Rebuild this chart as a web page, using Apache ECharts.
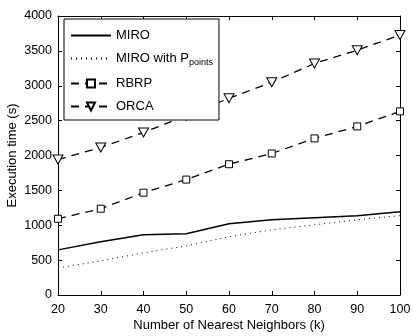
<!DOCTYPE html>
<html>
<head>
<meta charset="utf-8">
<script src="https://cdn.jsdelivr.net/npm/echarts@6/dist/echarts.min.js"></script>
<style>
  html, body { margin: 0; padding: 0; background: #fff; }
  #chart { width: 413px; height: 336px; }
</style>
</head>
<body>
<div id="chart"></div>
<script>
// Number of nearest neighbours (k)
const kValues = [20, 30, 40, 50, 60, 70, 80, 90, 100];
// Execution time in seconds per method
const miro = [647, 762, 863, 878, 1022, 1079, 1108, 1137, 1194];
const miroPoints = [388, 489, 604, 705, 834, 935, 1007, 1079, 1137];
const rbrp = [1093, 1237, 1467, 1655, 1875, 2029, 2245, 2417, 2633];
const orca = [1942, 2115, 2330, 2570, 2820, 3050, 3320, 3510, 3727];
const yTicks = [0, 500, 1000, 1500, 2000, 2500, 3000, 3500, 4000];

const FONT = 'Liberation Sans, Arial, sans-serif';
const toPairs = arr => arr.map((v, i) => [kValues[i], v]);

const chart = echarts.init(document.getElementById('chart'), null, { renderer: 'canvas' });

const axisCommon = {
  axisLine: { show: true, onZero: false, lineStyle: { color: '#000', width: 1 } },
  axisTick: { show: true, inside: true, length: 4, lineStyle: { color: '#000' } },
  splitLine: { show: false }
};

chart.setOption({
  animation: false,
  grid: { left: 58, right: 13, top: 16, bottom: 41, containLabel: false, outerBoundsMode: 'none' },
  xAxis: [
    Object.assign({
      type: 'value', min: 20, max: 100, interval: 10, position: 'bottom',
      name: 'Number of Nearest Neighbors (k)', nameLocation: 'middle', nameGap: 24,
      nameMoveOverlap: false,
      nameTextStyle: { fontFamily: FONT, fontSize: 13, color: '#000' },
      axisLabel: { fontFamily: FONT, fontSize: 12.5, color: '#000', margin: 8 }
    }, axisCommon),
    Object.assign({
      type: 'value', min: 20, max: 100, interval: 10, position: 'top',
      axisLabel: { show: false }
    }, axisCommon)
  ],
  yAxis: [
    Object.assign({
      type: 'value', min: 0, max: 4000, interval: 500, position: 'left',
      name: 'Execution time (s)', nameLocation: 'middle', nameGap: 39,
      nameMoveOverlap: false,
      nameTextStyle: { fontFamily: FONT, fontSize: 13, color: '#000' },
      axisLabel: { fontFamily: FONT, fontSize: 12.5, color: '#000', margin: 6,
        formatter: v => yTicks.includes(v) ? String(v) : '' }
    }, axisCommon),
    Object.assign({
      type: 'value', min: 0, max: 4000, interval: 500, position: 'right',
      axisLabel: { show: false }
    }, axisCommon)
  ],
  legend: {
    left: 64, top: 19, orient: 'vertical',
    width: 154,
    itemWidth: 40, itemHeight: 10, itemGap: 10,
    padding: [10, 6, 7, 6],
    borderColor: '#000', borderWidth: 1, backgroundColor: '#fff',
    textStyle: {
      fontFamily: FONT, fontSize: 13, color: '#000',
      rich: { sub: { fontFamily: FONT, fontSize: 9, color: '#000', verticalAlign: 'bottom', padding: [8, 0, 0, 0] } }
    },
    formatter: name => name === 'MIRO with Ppoints' ? 'MIRO with P{sub|points}' : name,
    data: [
      { name: 'MIRO', itemStyle: { opacity: 0 } },
      { name: 'MIRO with Ppoints', itemStyle: { opacity: 0 } },
      { name: 'RBRP' },
      { name: 'ORCA' }
    ]
  },
  series: [
    {
      name: 'MIRO', type: 'line', data: toPairs(miro),
      showSymbol: false, symbol: 'none',
      lineStyle: { color: '#000', width: 1.5, type: 'solid' },
      itemStyle: { color: '#000' }
    },
    {
      name: 'MIRO with Ppoints', type: 'line', data: toPairs(miroPoints),
      showSymbol: false, symbol: 'none',
      lineStyle: { color: '#000', width: 1, type: [1, 4] },
      itemStyle: { color: '#000' }
    },
    {
      name: 'RBRP', type: 'line', data: toPairs(rbrp),
      symbol: 'rect', symbolSize: 7,
      lineStyle: { color: '#000', width: 1.3, type: [8, 6] },
      itemStyle: { color: '#fff', borderColor: '#000', borderWidth: 1 }
    },
    {
      name: 'ORCA', type: 'line', data: toPairs(orca),
      symbol: 'triangle', symbolRotate: 180, symbolSize: [10, 9],
      lineStyle: { color: '#000', width: 1.3, type: [8, 6] },
      itemStyle: { color: '#fff', borderColor: '#000', borderWidth: 1 }
    }
  ]
});
</script>
</body>
</html>
